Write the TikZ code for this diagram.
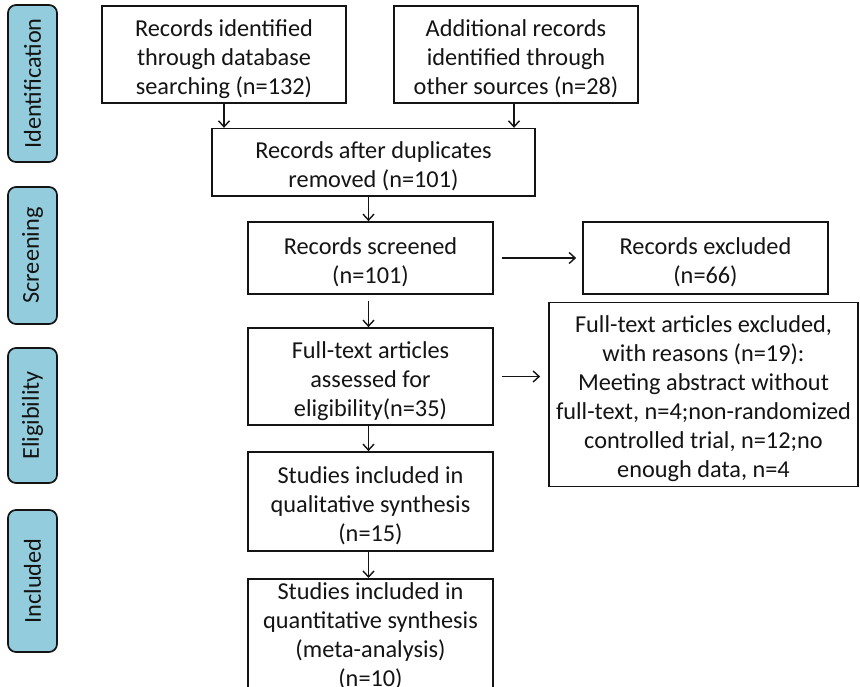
\documentclass[tikz,border=0pt]{standalone}
\usepackage{fontspec}
\setmainfont{Carlito}
\usetikzlibrary{arrows.meta}
\definecolor{phase}{RGB}{147,205,221}
\definecolor{ink}{RGB}{20,20,20}
\newcommand\boxlines[2][30pt]{\begin{tabular}{@{}c@{}}\rule{0pt}{#1}#2\end{tabular}}
\begin{document}
\begin{tikzpicture}[x=1pt,y=-1pt,
  box/.style={draw=ink, line width=1.7pt, inner sep=0pt,
              font=\fontsize{24.3}{29}\selectfont, text=ink},
  phasebox/.style={draw=ink, fill=phase, rounded corners=8pt, line width=1.7pt,
              rotate=90, inner sep=0pt, font=\fontsize{24.3}{29}\selectfont, text=ink},
  arr/.style={draw=ink, line width=1.4pt, -{Straight Barb[length=6pt,width=11pt]}}]
\clip (0,0) rectangle (860,687);
\fill[white] (0,0) rectangle (860,687);

% phase labels
\node[phasebox, minimum width=157pt, minimum height=49pt] (pid) at (32.5,83.5) {Identification};
\node[phasebox, minimum width=137pt, minimum height=49pt] (psc) at (32.5,255.5) {Screening};
\node[phasebox, minimum width=135pt, minimum height=49pt] (pel) at (32.5,415.5) {Eligibility};
\node[phasebox, minimum width=142pt, minimum height=49pt] (pin) at (32.5,581) {Included};

% boxes
\node[box, minimum width=244pt, minimum height=97pt] (db) at (224,54.5)
  {\boxlines{Records identified\\through database\\searching (n=132)}};
\node[box, minimum width=244pt, minimum height=97pt] (other) at (516,54.5)
  {\boxlines{Additional records\\identified through\\other sources (n=28)}};
\node[box, minimum width=323pt, minimum height=63pt] (dup) at (373.5,162.5)
  {\boxlines{Records after duplicates\\removed (n=101)}};
\node[box, minimum width=245pt, minimum height=72pt] (scr) at (370.5,258)
  {\boxlines{Records screened\\(n=101)}};
\node[box, minimum width=245pt, minimum height=72pt] (excl) at (705.5,258)
  {\boxlines{Records excluded\\(n=66)}};
\node[box, minimum width=245pt, minimum height=97pt] (full) at (370.5,376.5)
  {\boxlines{Full-text articles\\assessed for\\eligibility(n=35)}};
\node[box, minimum width=309pt, minimum height=177pt] (reas) at (703.5,394.5)
  {\boxlines{Full-text articles excluded,\\with reasons (n=19):\\Meeting abstract without\\full-text, n=4;non-randomized\\controlled trial, n=12;no\\enough data, n=4}};
\node[box, minimum width=245pt, minimum height=99pt] (qual) at (370.5,501.5)
  {\boxlines{Studies included in\\qualitative synthesis\\(n=15)}};
\node[box, minimum width=245pt, anchor=north] (quant) at (370.5,578)
  {\boxlines[20pt]{Studies included in\\quantitative synthesis\\(meta-analysis)\\(n=10)}};

% connectors
\draw[arr] (db.south) -- (db.south |- dup.north);
\draw[arr] ([xshift=-2pt]other.south) -- ([xshift=-2pt]other.south |- dup.north);
\draw[arr] ([xshift=-2pt]scr.north |- dup.south) -- ([xshift=-2pt]scr.north);
\draw[arr, shorten <=6pt] ([xshift=-2pt]scr.south) -- ([xshift=-2pt]full.north);
\draw[arr] ([xshift=-2pt]full.south) -- ([xshift=-2pt]qual.north);
\draw[arr] ([xshift=-2pt]qual.south) -- ([xshift=-2pt]quant.north);
\draw[arr, shorten <=8pt, shorten >=6pt] (scr.east) -- (excl.west);
\draw[arr, shorten <=8pt, shorten >=8pt] (full.east) -- (reas.west |- full.east);
\end{tikzpicture}
\end{document}
